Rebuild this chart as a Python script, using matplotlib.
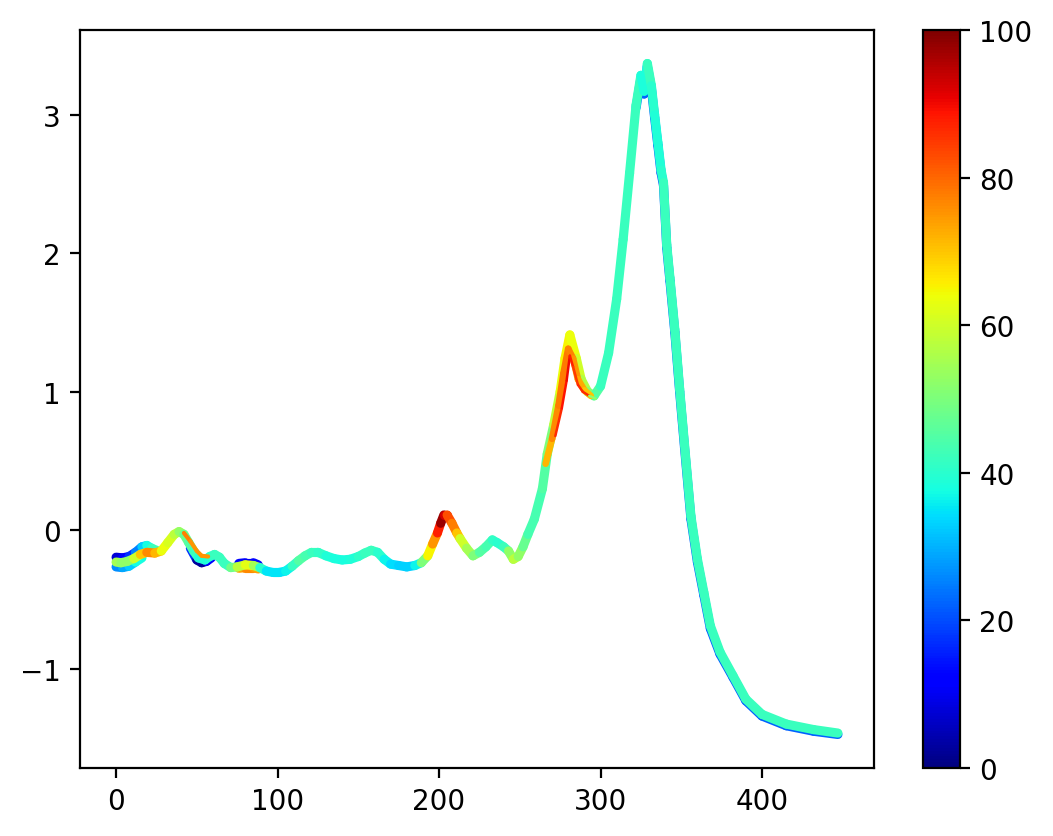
import matplotlib
matplotlib.use("Agg")
import matplotlib.pyplot as plt
import numpy as np
from matplotlib.collections import LineCollection
from matplotlib.colors import Normalize

# main trace: x, y and the colour value at each read point
main_x = [0, 3, 7, 11, 15, 19, 24, 28, 32, 36, 39, 42, 45, 48, 51, 55, 58, 61, 64, 67,
          71, 75, 80, 85, 89, 93, 97, 101, 105, 109, 113, 117, 121, 125, 130, 135, 140,
          145, 150, 154, 158, 162, 166, 170, 175, 180, 185, 189, 193, 196, 199, 201, 203,
          205, 208, 211, 213, 217, 221, 225, 229, 233, 236, 240, 243, 246, 249, 252, 255,
          259, 264, 267, 271, 275, 278, 281, 285, 288, 292, 296, 300, 305, 310, 314, 318,
          322, 325, 327, 329, 331.5, 333.5, 335.5, 337.5, 339, 341, 343, 346, 349, 352,
          356, 360, 364, 368, 374, 382, 390, 400, 415, 432, 447]
main_y = [-0.23, -0.235, -0.225, -0.205, -0.175, -0.16, -0.165, -0.15, -0.09, -0.03, -0.01,
          -0.03, -0.09, -0.15, -0.20, -0.215, -0.19, -0.175, -0.195, -0.24, -0.27, -0.265,
          -0.25, -0.255, -0.27, -0.295, -0.305, -0.305, -0.295, -0.26, -0.22, -0.185, -0.16,
          -0.16, -0.185, -0.205, -0.215, -0.21, -0.19, -0.165, -0.145, -0.16, -0.21, -0.245,
          -0.255, -0.265, -0.255, -0.235, -0.185, -0.10, -0.02, 0.05, 0.11, 0.11, 0.05, -0.02,
          -0.06, -0.13, -0.185, -0.16, -0.12, -0.07, -0.09, -0.12, -0.15, -0.21, -0.19, -0.12,
          -0.03, 0.08, 0.30, 0.55, 0.76, 1.0, 1.24, 1.41, 1.24, 1.09, 1.0, 0.97, 1.04, 1.28,
          1.67, 2.10, 2.58, 3.07, 3.285, 3.17, 3.37, 3.21, 3.0, 2.80, 2.60, 2.51, 2.06, 1.82,
          1.45, 1.02, 0.62, 0.10, -0.21, -0.45, -0.69, -0.88, -1.05, -1.22, -1.33, -1.40,
          -1.44, -1.465]
main_c = [55, 55, 50, 55, 65, 75, 78, 65, 62, 60, 55, 50, 45, 45, 40, 38, 40, 42, 42, 42,
          42, 55, 60, 65, 45, 35, 35, 35, 35, 38, 45, 45, 42, 42, 40, 38, 38, 38, 40, 42,
          42, 42, 38, 35, 33, 33, 33, 40, 60, 70, 80, 95, 100, 85, 80, 75, 65, 55, 55, 45,
          45, 42, 40, 40, 45, 60, 55, 50, 45, 42, 45, 45, 55, 62, 65, 65, 62, 58, 55, 48,
          42, 42, 42, 42, 42, 42, 42, 35, 42, 42, 38, 40, 38, 42, 42, 42, 42, 42, 42, 42,
          42, 42, 42, 42, 42, 42, 42, 42, 42, 42]

# other traces that show up beside the main one
upper_x = [0, 4, 8, 12, 16, 19, 22, 26]
upper_y = [-0.195, -0.20, -0.19, -0.16, -0.12, -0.11, -0.13, -0.15]
upper_c = [5, 10, 15, 20, 30, 35, 40, 45]

lower_x = [0, 4, 8, 12, 16]
lower_y = [-0.265, -0.27, -0.26, -0.23, -0.20]
lower_c = [25, 28, 30, 35, 40]

dip_x = [46, 50, 53, 56, 59]
dip_y = [-0.13, -0.215, -0.235, -0.225, -0.20]
dip_c = [30, 5, 0, 5, 20]

bump_x = [42, 46, 50, 53, 57]
bump_y = [-0.02, -0.08, -0.15, -0.185, -0.19]
bump_c = [80, 75, 75, 75, 75]

flat_blue_x = [76, 80, 85, 88]
flat_blue_y = [-0.24, -0.235, -0.235, -0.25]
flat_blue_c = [12, 10, 10, 15]

flat_orange_x = [76, 80, 85, 88]
flat_orange_y = [-0.275, -0.27, -0.27, -0.28]
flat_orange_c = [72, 75, 78, 70]

orange_x = [266, 270, 274, 277, 280, 283, 286, 290, 294]
orange_y = [0.48, 0.66, 0.90, 1.13, 1.31, 1.24, 1.09, 1.01, 0.97]
orange_c = [68, 75, 78, 78, 78, 76, 74, 72, 68]

red_x = [272, 276, 279, 281, 283, 286, 289, 293, 297]
red_y = [0.68, 0.88, 1.08, 1.26, 1.18, 1.05, 1.00, 0.97, 0.95]
red_c = [85, 88, 90, 90, 85, 85, 88, 85, 20]

tail_x = [322, 325, 327, 329, 331.5, 333.5, 335.5, 337.5, 339, 341, 343, 346, 349, 352,
          356, 360, 364, 368, 374, 382, 390, 400, 415, 432, 447]
tail_y = [3.05, 3.265, 3.15, 3.35, 3.19, 2.98, 2.78, 2.58, 2.49, 2.04, 1.80, 1.43, 1.00,
          0.60, 0.08, -0.23, -0.47, -0.71, -0.895, -1.062, -1.232, -1.342, -1.412, -1.452,
          -1.475]
tail_c = [25, 25, 20, 25, 22, 20, 22, 18, 22, 22, 22, 22, 22, 22, 22, 22, 22, 22, 22, 22,
          22, 22, 22, 22, 22]

norm = Normalize(vmin=0, vmax=100)


def add_trace(ax, x, y, c, lw=3.3):
    pts = np.column_stack([x, y]).reshape(-1, 1, 2)
    segs = np.concatenate([pts[:-1], pts[1:]], axis=1)
    c = np.asarray(c, dtype=float)
    lc = LineCollection(segs, cmap="jet", norm=norm, linewidths=lw,
                        capstyle="round", joinstyle="round")
    lc.set_array((c[:-1] + c[1:]) / 2)
    ax.add_collection(lc)
    return lc


fig = plt.figure(figsize=(5.265, 4.185), dpi=200)
ax = fig.add_axes([80 / 1053, 68 / 837, 794 / 1053, 738 / 837])
cax = fig.add_axes([923 / 1053, 68 / 837, 37 / 1053, 738 / 837])

# back to front
add_trace(ax, tail_x, tail_y, tail_c)
add_trace(ax, upper_x, upper_y, upper_c)
add_trace(ax, lower_x, lower_y, lower_c)
add_trace(ax, dip_x, dip_y, dip_c)
add_trace(ax, flat_blue_x, flat_blue_y, flat_blue_c)
add_trace(ax, flat_orange_x, flat_orange_y, flat_orange_c)
sm = add_trace(ax, main_x, main_y, main_c)
add_trace(ax, bump_x, bump_y, bump_c, lw=1.5)
add_trace(ax, orange_x, orange_y, orange_c, lw=2.4)
add_trace(ax, red_x, red_y, red_c, lw=0.9)

ax.autoscale_view()
ax.set_xticks([0, 100, 200, 300, 400])
ax.set_yticks([-1, 0, 1, 2, 3])

cb = fig.colorbar(sm, cax=cax)
cb.set_ticks([0, 20, 40, 60, 80, 100])

fig.savefig("out.png", dpi=200)
